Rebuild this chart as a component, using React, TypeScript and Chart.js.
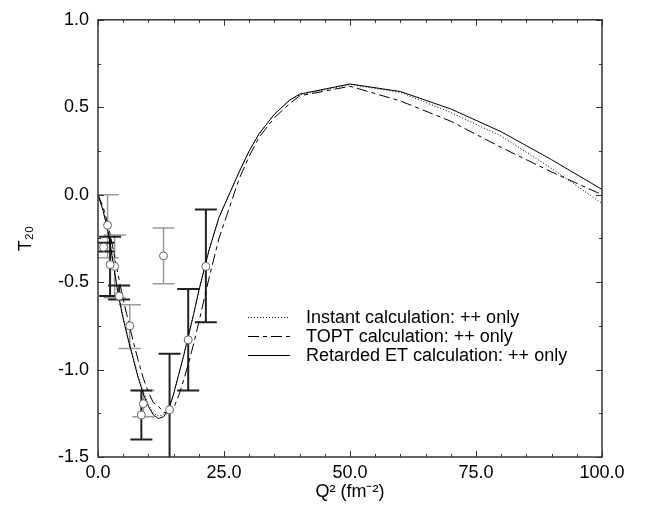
import React, { useEffect, useRef } from "react";
import { Chart, registerables } from "chart.js";

Chart.register(...registerables);

// ---------- Data ----------
const xTickValues = [0, 25, 50, 75, 100];
const yTickValues = [-1.5, -1.0, -0.5, 0.0, 0.5, 1.0];

const curveQ = [0, 1, 2, 3, 4, 5, 6, 7, 8, 9, 10, 11, 12, 13, 14, 15, 16, 17, 18, 19, 20, 22, 24, 26, 28, 30, 32, 35, 38, 40, 50, 60, 70, 80, 90, 100];

const instantT = [0, -0.09, -0.21, -0.38, -0.56, -0.7, -0.82, -0.93, -1.04, -1.13, -1.2, -1.25, -1.265, -1.26, -1.22, -1.14, -1.03, -0.92, -0.8, -0.68, -0.55, -0.32, -0.13, 0.0, 0.13, 0.25, 0.35, 0.46, 0.54, 0.57, 0.63, 0.585, 0.47, 0.335, 0.15, -0.05];

const toptT = [0, -0.07, -0.17, -0.31, -0.46, -0.6, -0.72, -0.84, -0.95, -1.05, -1.13, -1.19, -1.21, -1.245, -1.25, -1.22, -1.15, -1.06, -0.96, -0.85, -0.73, -0.48, -0.25, -0.08, 0.09, 0.22, 0.33, 0.44, 0.52, 0.565, 0.62, 0.536, 0.42, 0.27, 0.13, 0.0];

const retardedT = [0, -0.09, -0.21, -0.39, -0.57, -0.71, -0.83, -0.94, -1.05, -1.14, -1.21, -1.26, -1.28, -1.27, -1.23, -1.14, -1.03, -0.92, -0.8, -0.68, -0.55, -0.32, -0.13, 0.0, 0.13, 0.25, 0.35, 0.46, 0.54, 0.575, 0.633, 0.59, 0.49, 0.36, 0.2, 0.03];

// experimental set A (dark error bars)
const setAQ = [1.1, 2.4, 4.2, 8.6, 14.2, 17.9, 21.4];
const setAT = [-0.3, -0.4, -0.58, -1.26, -1.23, -0.83, -0.41];
const setALo = [-0.325, -0.58, -0.6, -1.4, -1.6, -1.12, -0.73];
const setAHi = [-0.275, -0.24, -0.52, -1.12, -0.91, -0.54, -0.085];

// experimental set B (grey error bars)
const setBQ = [1.9, 3.3, 6.3, 9.0, 13.0];
const setBT = [-0.175, -0.41, -0.75, -1.195, -0.35];
const setBLo = [-0.36, -0.59, -0.88, -1.27, -0.51];
const setBHi = [0.0, -0.23, -0.63, -1.12, -0.19];

const seriesLabels = [
  "Instant calculation: ++ only",
  "TOPT calculation: ++ only",
  "Retarded ET calculation: ++ only",
];

// ---------- Styles ----------
const FONT = "'Liberation Sans', Arial, Helvetica, sans-serif";
const FS = 18;
const DASHES: number[][] = [[1, 2], [11, 4, 4, 4], []];

const toXY = (xs: number[], ys: number[]) => xs.map((x, i) => ({ x, y: ys[i] }));

const errorBarPlugin = {
  id: "errorBars",
  beforeDatasetsDraw(chart: any) {
    const { ctx, chartArea: a, scales } = chart;
    const xs = scales.x;
    const ys = scales.y;
    const draw = (q: number[], lo: number[], hi: number[], color: string, w: number) => {
      ctx.save();
      ctx.beginPath();
      ctx.rect(a.left, a.top, a.right - a.left, a.bottom - a.top);
      ctx.clip();
      ctx.strokeStyle = color;
      ctx.lineWidth = w;
      const cap = 11;
      q.forEach((v, i) => {
        const px = xs.getPixelForValue(v);
        const y1 = ys.getPixelForValue(lo[i]);
        const y2 = ys.getPixelForValue(hi[i]);
        ctx.beginPath();
        ctx.moveTo(px, y1);
        ctx.lineTo(px, y2);
        ctx.moveTo(px - cap, y1);
        ctx.lineTo(px + cap, y1);
        ctx.moveTo(px - cap, y2);
        ctx.lineTo(px + cap, y2);
        ctx.stroke();
      });
      ctx.restore();
    };
    draw(setBQ, setBLo, setBHi, "#9a9a9a", 1.5);
    draw(setAQ, setALo, setAHi, "#222", 2);
  },
  afterDraw(chart: any) {
    const { ctx, chartArea: a, scales } = chart;
    const xs = scales.x;
    const ys = scales.y;
    ctx.save();
    ctx.strokeStyle = "#333";
    ctx.lineWidth = 1.5;
    ctx.strokeRect(a.left, a.top, a.right - a.left, a.bottom - a.top);
    ctx.lineWidth = 1;
    ctx.beginPath();
    for (let v = xs.min; v <= xs.max + 1e-9; v += 5) {
      const px = Math.round(xs.getPixelForValue(v)) + 0.5;
      const len = Math.abs(v % 25) < 1e-9 ? 6 : 3;
      ctx.moveTo(px, a.bottom);
      ctx.lineTo(px, a.bottom - len);
      ctx.moveTo(px, a.top);
      ctx.lineTo(px, a.top + len);
    }
    for (let v = ys.min; v <= ys.max + 1e-9; v += 0.25) {
      const py = Math.round(ys.getPixelForValue(v)) + 0.5;
      const r = Math.round(v * 100);
      const len = r % 50 === 0 ? 6 : 3;
      ctx.moveTo(a.left, py);
      ctx.lineTo(a.left + len, py);
      ctx.moveTo(a.right, py);
      ctx.lineTo(a.right - len, py);
    }
    ctx.stroke();

    // legend
    const lx0 = a.left + 150;
    const lx1 = a.left + 192;
    const tx = a.left + 208;
    const ly0 = a.top + 297;
    const step = 19.3;
    ctx.font = `${FS}px ${FONT}`;
    ctx.textBaseline = "middle";
    ctx.textAlign = "left";
    seriesLabels.forEach((lab, i) => {
      const y = Math.round(ly0 + i * step) + 0.5;
      ctx.strokeStyle = "#000";
      ctx.lineWidth = 1;
      ctx.setLineDash(DASHES[i]);
      ctx.beginPath();
      ctx.moveTo(lx0, y);
      ctx.lineTo(lx1, y);
      ctx.stroke();
      ctx.setLineDash([]);
      ctx.fillStyle = "#000";
      ctx.fillText(lab, tx, y + 1);
    });
    ctx.restore();
  },
};

export default function App() {
  const ref = useRef<HTMLCanvasElement>(null);
  useEffect(() => {
    Chart.defaults.font.family = FONT;
    const lineDs = (label: string, ys: number[], dash: number[]) => ({
      label,
      data: toXY(curveQ, ys),
      showLine: true,
      borderColor: "#000",
      borderWidth: 1,
      borderDash: dash,
      pointRadius: 0,
      pointHoverRadius: 0,
      fill: false,
      order: 2,
    });
    const ptDs = (label: string, q: number[], t: number[]) => ({
      label,
      data: toXY(q, t),
      showLine: false,
      pointRadius: 4,
      pointBorderColor: "#666",
      pointBackgroundColor: "#fff",
      pointBorderWidth: 1,
      order: 1,
    });
    const chart = new Chart(ref.current!, {
      type: "scatter",
      data: {
        datasets: [
          ptDs("set A", setAQ, setAT),
          ptDs("set B", setBQ, setBT),
          lineDs(seriesLabels[0], instantT, DASHES[0]),
          lineDs(seriesLabels[1], toptT, DASHES[1]),
          lineDs(seriesLabels[2], retardedT, DASHES[2]),
        ] as any,
      },
      options: {
        responsive: false,
        animation: false,
        events: [],
        layout: { padding: { top: 17, right: 45, left: 0, bottom: 0 } },
        plugins: { legend: { display: false }, tooltip: { enabled: false } },
        scales: {
          x: {
            type: "linear",
            min: 0,
            max: 100,
            afterBuildTicks: (s: any) => {
              s.ticks = xTickValues.map((v) => ({ value: v }));
            },
            afterFit: (s: any) => {
              s.height = 50;
            },
            grid: { display: false, drawTicks: false },
            border: { display: false },
            ticks: {
              padding: 5,
              maxRotation: 0,
              color: "#000",
              font: { size: FS, family: FONT },
              callback: (v: any) => Number(v).toFixed(1),
            },
            title: {
              display: true,
              text: "Q² (fm⁻²)",
              color: "#000",
              font: { size: FS, family: FONT },
              padding: { top: 0, bottom: 4 },
            },
          },
          y: {
            type: "linear",
            min: -1.5,
            max: 1.0,
            afterBuildTicks: (s: any) => {
              s.ticks = yTickValues.map((v) => ({ value: v }));
            },
            afterFit: (s: any) => {
              s.width = 98;
            },
            grid: { display: false, drawTicks: false },
            border: { display: false },
            ticks: {
              padding: 9,
              color: "#000",
              font: { size: FS, family: FONT },
              callback: (v: any) => Number(v).toFixed(1),
            },
            title: {
              display: true,
              text: "T₂₀",
              color: "#000",
              font: { size: FS, family: FONT },
              padding: { top: 15, bottom: 0 },
            },
          },
        },
      },
      plugins: [errorBarPlugin],
    } as any);
    return () => chart.destroy();
  }, []);
  return (
    <div style={{ position: "absolute", left: 0, top: 0, width: 647, height: 507, background: "#fff" }}>
      <canvas ref={ref} width={647} height={507} style={{ width: 647, height: 507, display: "block" }} />
    </div>
  );
}
